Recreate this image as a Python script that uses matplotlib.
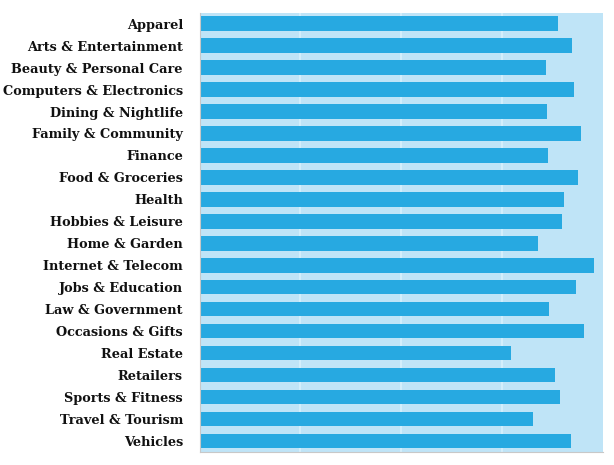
import matplotlib
matplotlib.use("Agg")
import matplotlib.pyplot as plt

categories = ["Apparel", "Arts & Entertainment", "Beauty & Personal Care",
              "Computers & Electronics", "Dining & Nightlife", "Family & Community",
              "Finance", "Food & Groceries", "Health", "Hobbies & Leisure",
              "Home & Garden", "Internet & Telecom", "Jobs & Education",
              "Law & Government", "Occasions & Gifts", "Real Estate", "Retailers",
              "Sports & Fitness", "Travel & Tourism", "Vehicles"]
values = [88.9, 92.2, 85.8, 92.7, 86.1, 94.5, 86.4, 93.7, 90.3, 89.8,
          83.8, 97.8, 93.2, 86.6, 95.2, 77.1, 88.0, 89.3, 82.7, 91.9]

fig = plt.figure(figsize=(6.14, 4.65), dpi=100)
ax = fig.add_axes([0.325, 0.028, 0.6576, 0.9447])
ax.set_facecolor("#bfe4f7")

y = list(range(len(categories)))
ax.barh(y, values, height=0.66, color="#27a9e1", zorder=2)
ax.set_xlim(0, 100)
ax.set_ylim(len(categories) - 0.5, -0.5)
ax.set_yticks(y)
ax.set_yticklabels(categories, fontfamily="DejaVu Serif", fontweight="bold",
                   fontsize=9.3, color="#111111")
ax.set_xticks([25, 50, 75])
ax.set_xticklabels([])
ax.tick_params(axis="both", length=0, pad=12)
ax.grid(axis="x", color="#d8f1fc", linewidth=1.2, zorder=1)
for s in ["top", "right"]:
    ax.spines[s].set_visible(False)
for s in ["left", "bottom"]:
    ax.spines[s].set_color("#c8c8c8")
    ax.spines[s].set_linewidth(0.8)

fig.savefig("out.png", dpi=100, facecolor="white")
